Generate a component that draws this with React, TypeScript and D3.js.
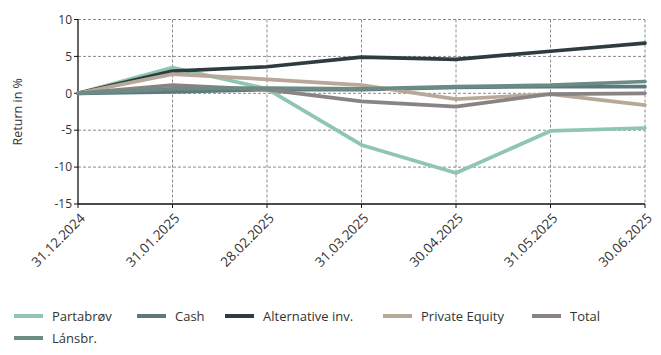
import React from "react";
import * as d3 from "d3";

const categories = ["31.12.2024", "31.01.2025", "28.02.2025", "31.03.2025", "30.04.2025", "31.05.2025", "30.06.2025"];
const partabrov = [0, 3.5, 0.6, -7.0, -10.8, -5.1, -4.7];
const cash = [0, 0.2, 0.5, 0.5, 0.8, 0.9, 0.9];
const alternative = [0, 3.0, 3.6, 4.9, 4.6, 5.7, 6.8];
const privateEquity = [0, 2.6, 1.9, 1.1, -0.8, -0.1, -1.6];
const total = [0, 1.1, 0.5, -1.1, -1.8, -0.1, 0.0];
const lansbr = [0, 0.6, 0.7, 0.6, 0.9, 1.1, 1.6];
const yTicks = [10, 5, 0, -5, -10, -15];

const series = [
  { name: "Partabrøv", values: partabrov, color: "#8ec5b3" },
  { name: "Cash", values: cash, color: "#5e7880" },
  { name: "Alternative inv.", values: alternative, color: "#2e3c3f" },
  { name: "Private Equity", values: privateEquity, color: "#b8a89a" },
  { name: "Total", values: total, color: "#8a8383" },
  { name: "Lánsbr.", values: lansbr, color: "#6b8c84" },
];

const legendPos = [
  { x: 14, y: 316 },
  { x: 137, y: 316 },
  { x: 225, y: 316 },
  { x: 383, y: 316 },
  { x: 532, y: 316 },
  { x: 14, y: 338 },
];

export default function App() {
  const W = 661, H = 355;
  const left = 78, right = 645, top = 19.5, bottom = 204;
  const x = d3.scalePoint<string>().domain(categories).range([left, right]);
  const y = d3.scaleLinear().domain([-15, 10]).range([bottom, top]);
  const line = d3.line<number>().x((_, i) => x(categories[i])!).y((d) => y(d));
  const font = "'Open Sans', 'Noto Sans', sans-serif";
  return (
    <svg width={W} height={H} style={{ position: "absolute", left: 0, top: 0 }} fontFamily={font}>
      <rect width={W} height={H} fill="#fff" />
      {/* grid */}
      {yTicks.filter((t) => t !== -15).map((t) => (
        <line key={"gy" + t} x1={left} x2={right} y1={y(t)} y2={y(t)} stroke="#8a8a8a" strokeDasharray="3,2" strokeWidth={1} />
      ))}
      {categories.slice(1).map((c) => (
        <line key={"gx" + c} x1={x(c)} x2={x(c)} y1={top} y2={bottom} stroke="#8a8a8a" strokeDasharray="3,2" strokeWidth={1} />
      ))}
      {/* axes */}
      <line x1={left} x2={left} y1={top} y2={bottom} stroke="#111" strokeWidth={1.3} />
      <line x1={left} x2={right} y1={bottom} y2={bottom} stroke="#111" strokeWidth={1.3} />
      {yTicks.map((t) => (
        <g key={"yt" + t}>
          <line x1={left - 4} x2={left} y1={y(t)} y2={y(t)} stroke="#111" />
          <text x={left - 6} y={y(t)} dy="0.35em" textAnchor="end" fontSize={12} fill="#333">{t}</text>
        </g>
      ))}
      {categories.map((c) => (
        <g key={"xt" + c}>
          <line x1={x(c)} x2={x(c)} y1={bottom} y2={bottom + 4} stroke="#111" />
          <text transform={`translate(${x(c)! + 8},${bottom + 15}) rotate(-45)`} textAnchor="end" fontSize={13.5} fill="#333">{c}</text>
        </g>
      ))}
      <text transform={`translate(22,${(top + bottom) / 2}) rotate(-90)`} textAnchor="middle" fontSize={12.5} fill="#333">Return in %</text>
      {/* lines */}
      {series.map((s) => (
        <path key={s.name} d={line(s.values)!} fill="none" stroke={s.color} strokeWidth={3.7} strokeLinejoin="round" strokeLinecap="round" />
      ))}
      {/* legend */}
      {series.map((s, i) => (
        <g key={"lg" + s.name}>
          <line x1={legendPos[i].x} x2={legendPos[i].x + 29} y1={legendPos[i].y} y2={legendPos[i].y} stroke={s.color} strokeWidth={4} />
          <text x={legendPos[i].x + 38} y={legendPos[i].y} dy="0.35em" fontSize={13} fill="#333">{s.name}</text>
        </g>
      ))}
    </svg>
  );
}
